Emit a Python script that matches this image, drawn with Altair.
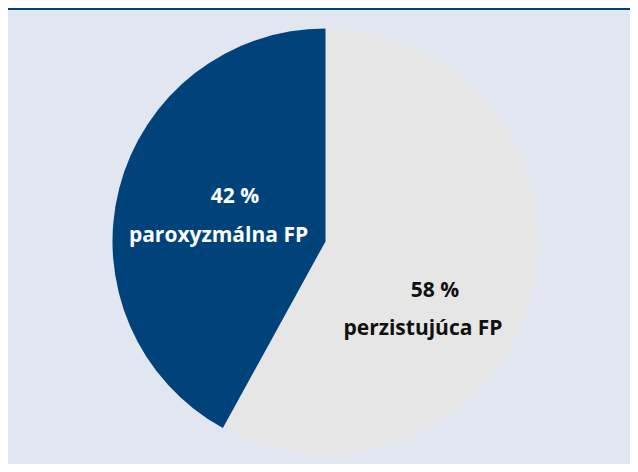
import altair as alt
import pandas as pd

categories = ["perzistujúca FP", "paroxyzmálna FP"]
values = [58, 42]
pct_labels = ["58 %", "42 %"]
colors = ["#e6e6e6", "#00437a"]

df = pd.DataFrame({"cat": categories, "val": values, "pct": pct_labels, "order": [0, 1]})

W, H = 622, 456
CX, CY, R = 317.5, 233.4, 213

pie = alt.Chart(df).mark_arc(outerRadius=R, stroke=None).encode(
    theta=alt.Theta("val:Q", stack=True),
    order=alt.Order("order:Q"),
    color=alt.Color("cat:N", scale=alt.Scale(domain=categories, range=colors), legend=None),
    x=alt.value(CX),
    y=alt.value(CY),
)

topline = alt.Chart(df).mark_rule(color="#00437a", strokeWidth=2).encode(
    x=alt.value(0), x2=alt.value(W), y=alt.value(1)
)

def label(text_field, row, x, y, color):
    return alt.Chart(df[df["cat"] == categories[row]]).mark_text(
        font="Open Sans", fontWeight="bold", fontSize=21, color=color,
        baseline="alphabetic", align="center"
    ).encode(text=f"{text_field}:N", x=alt.value(x), y=alt.value(y))

chart = alt.layer(
    pie,
    topline,
    label("pct", 1, 227, 195, "white"),
    label("cat", 1, 210.5, 234, "white"),
    label("pct", 0, 427, 289, "#111111"),
    label("cat", 0, 415, 327, "#111111"),
).properties(
    width=W, height=H, background="#e2e6f0", padding=0, autosize="none"
).configure_view(stroke=None)

chart.save("out.html", embed_options={"renderer": "svg", "actions": False})
